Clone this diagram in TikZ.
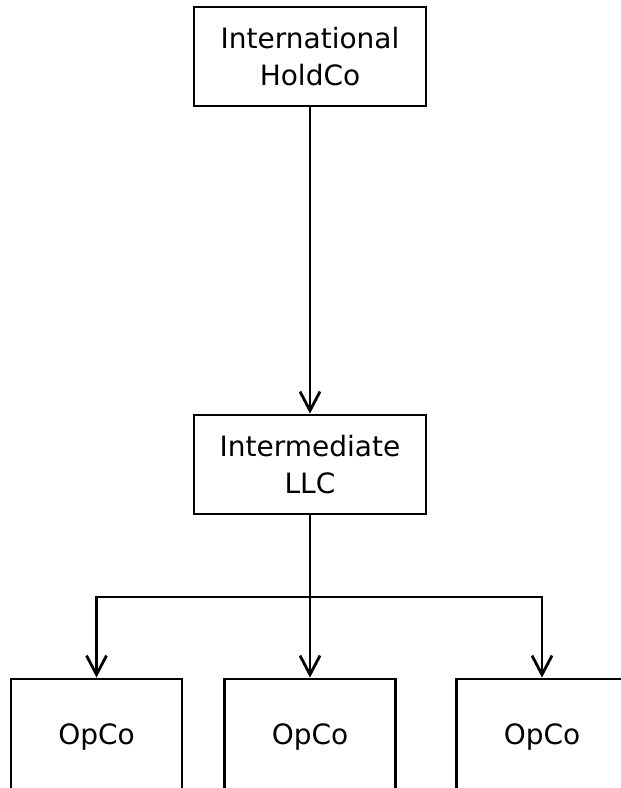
\documentclass[tikz,border=0pt]{standalone}
\usepackage{fontspec}
\setmainfont{DejaVu Sans}
\usepackage{tikz}
\usetikzlibrary{arrows.meta}
\tikzstyle{entity} = [rectangle, minimum width=232pt, minimum height=99pt, inner sep=0pt, align=center, text centered, draw=black, line width=2.8pt, font=\fontsize{28}{37}\selectfont]
\tikzstyle{opco} = [rectangle, minimum width=171pt, minimum height=116pt, inner sep=0pt, text centered, draw=black, line width=2.8pt, font=\fontsize{28}{37}\selectfont]
\tikzstyle{arrow} = [line width=2.8pt,-{Straight Barb[length=19pt,width=20pt,line width=2.8pt]}]

\begin{document}
\begin{tikzpicture}[x=1pt,y=-1pt]
\useasboundingbox (0,0) rectangle (621,788);
\clip (0,0) rectangle (621,788);
\node (holdco) at (310,56.5) [entity] {International\\HoldCo};
%
\node (inter) at (310,464.5) [entity] {Intermediate\\LLC};
%
\coordinate (split) at (310,597);
%
\node (opa) at (96.5,737) [opco] {OpCo};
\node (opb) at (310,737) [opco] {OpCo};
\node (opc) at (542,737) [opco] {OpCo};
%
\draw [arrow] (holdco) -- (inter);
\draw [line width=2.8pt] (inter) -- (split);
\draw [arrow] (split) -| (opa);
\draw [arrow] (split) -- (opb);
\draw [arrow] (split) -| (opc);

\end{tikzpicture}
\end{document}
